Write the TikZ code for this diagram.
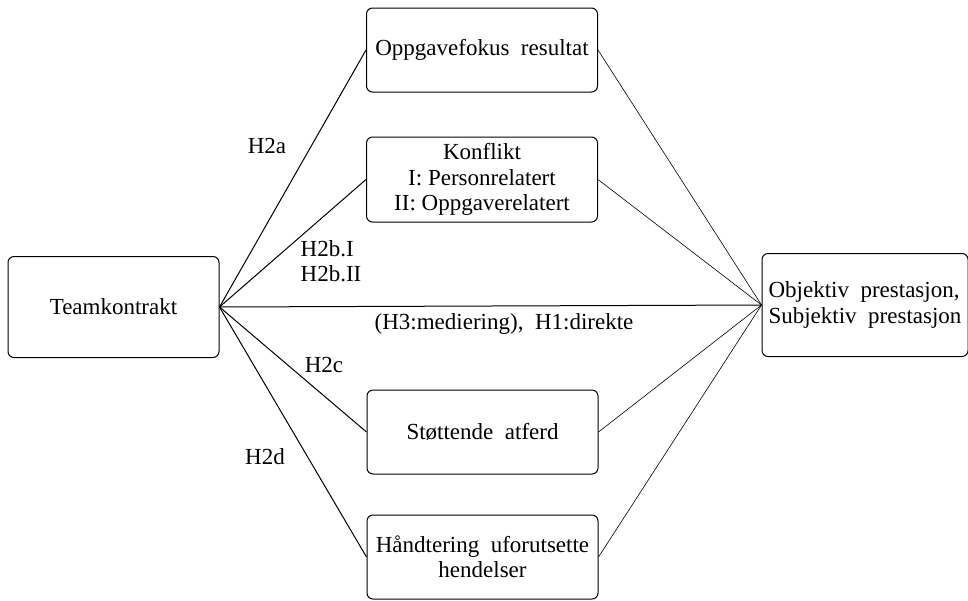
\documentclass[tikz,border=0pt]{standalone}
\usepackage{fontspec}
\setmainfont{Liberation Serif}

\begin{document}
\begin{tikzpicture}[x=1pt, y=-1pt,
    box/.style={draw, line width=1pt, rounded corners=6pt, align=center, inner sep=2pt},
    lbl/.style={inner sep=0pt},
    every node/.style={font=\fontsize{23}{25.5}\selectfont}]
    \useasboundingbox (0, 0) rectangle (968, 600);
    \node[box, minimum width=211, minimum height=101](team) at(113.5, 307){Teamkontrakt};
    \node[box, minimum width=231, minimum height=84](oppg) at(482, 50){Oppgavefokus\ \ resultat};
    \node[box, minimum width=231, minimum height=85](konf) at(482, 179.5){Konflikt\\I: Personrelatert\\II: Oppgaverelatert};
    \node[box, minimum width=231, minimum height=84](stot) at(482.5, 432){St\o ttende\ \ atferd};
    \node[box, minimum width=231, minimum height=84](hand) at(482.5, 557){H\aa ndtering\ \ uforutsette\\hendelser};
    \node[box, minimum width=206, minimum height=103, align=left](obj) at(865, 305){Objektiv\ \ prestasjon,\\Subjektiv\ \ prestasjon};
    \draw[line width=1pt](team.east)--(oppg.west);
    \draw[line width=1pt](team.east)--(konf.west);
    \draw[line width=1pt](team.east)--(obj.west);
    \draw[line width=1pt](team.east)--(stot.west);
    \draw[line width=1pt](team.east)--(hand.west);
    \draw[line width=.6pt](oppg.east)--(obj.west);
    \draw[line width=.6pt](konf.east)--(obj.west);
    \draw[line width=.6pt](stot.east)--(obj.west);
    \draw[line width=.6pt](hand.east)--(obj.west);
    \node[lbl](h2a) at(267, 146){H2a};
    \node[lbl, align=left](h2b) at(331, 261){H2b.I\\H2b.II};
    \node[lbl](h1) at(504, 324){(H3:mediering),\ \ H1:direkte};
    \node[lbl](h2c) at(324, 365){H2c};
    \node[lbl](h2d) at(265, 457){H2d};
\end{tikzpicture}
\end{document}
